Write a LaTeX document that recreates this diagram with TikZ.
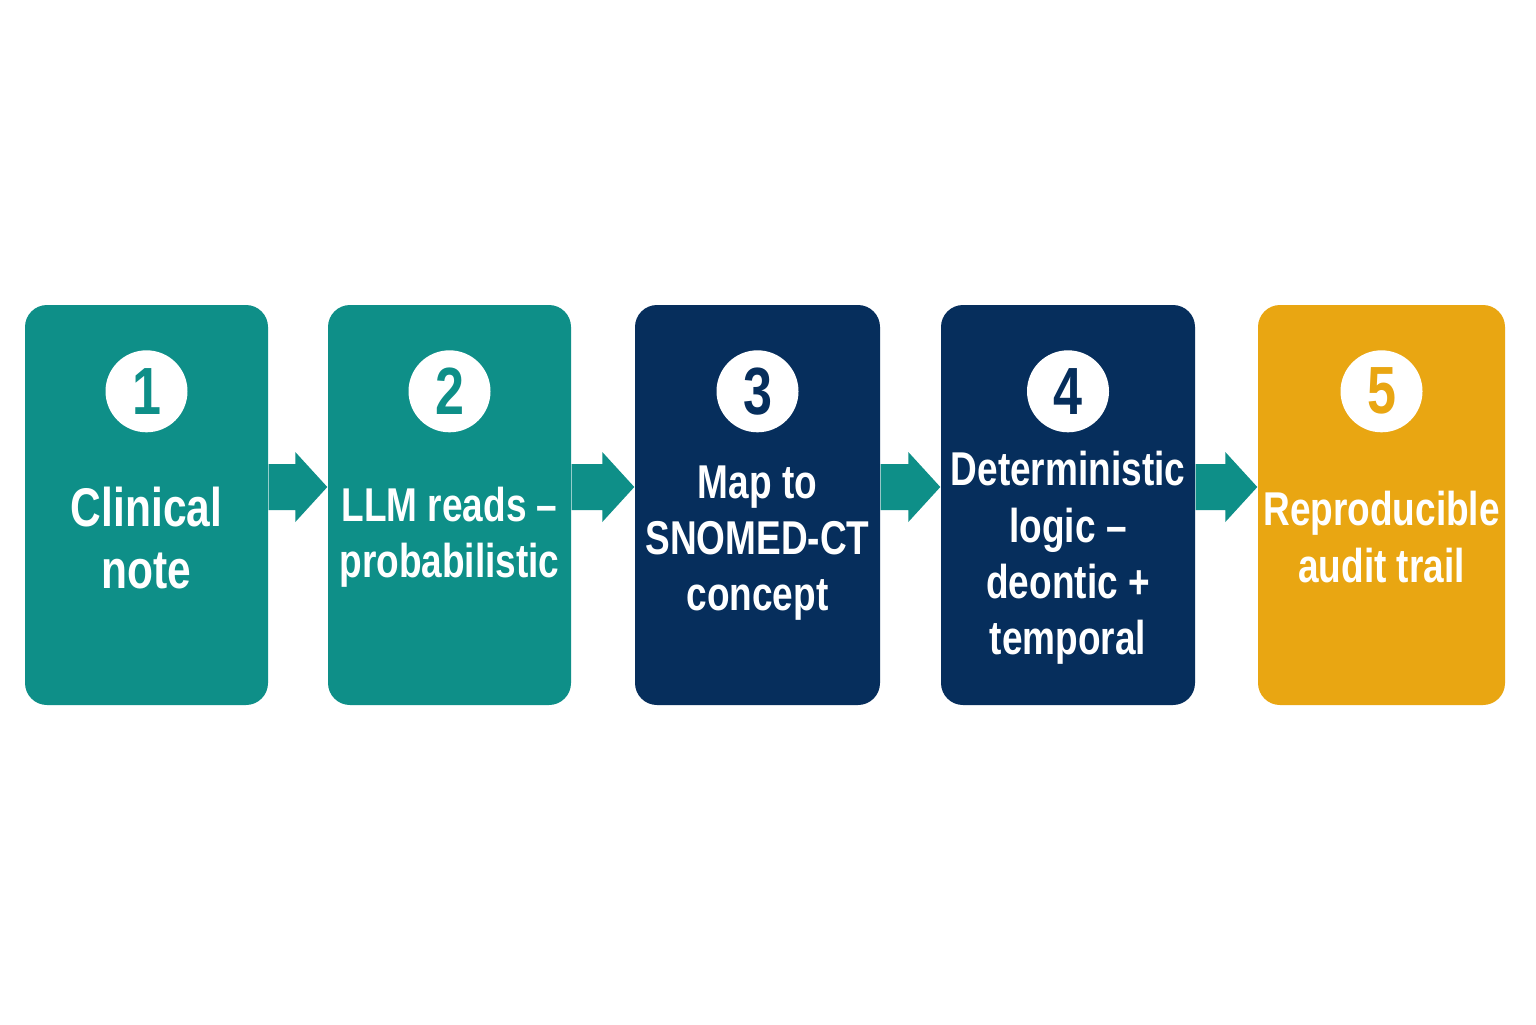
\documentclass[tikz,border=0pt]{standalone}
\usepackage{fontspec}
\setmainfont{Liberation Sans}[FakeStretch=0.78]
\usetikzlibrary{calc,positioning}
\definecolor{tealc}{HTML}{0E8F88}
\definecolor{navyc}{HTML}{062E5C}
\definecolor{gold}{HTML}{E9A612}
\tikzset{
	stepbox/.style={rounded corners=0.22cm, minimum height=4cm, inner sep=0},
	numdot/.style={circle, fill=white, minimum size=0.82cm, inner sep=0, font=\bfseries\fontsize{19}{19}\selectfont},
	label/.style={text=white, align=center, font=\bfseries\fontsize{13.5}{16}\selectfont}
}
% block arrow from one box to the next
\newcommand{\flowarrow}[2]{
	\fill[tealc] ($(#1.east)+(0,0.41)$) -- ($(#2.west)+(-0.32,0.41)$) -- ($(#2.west)+(-0.32,0.53)$)
	-- ($(#2.west)+(0,0.18)$) -- ($(#2.west)+(-0.32,-0.17)$) -- ($(#2.west)+(-0.32,-0.05)$)
	-- ($(#1.east)+(0,-0.05)$) -- cycle;
}
\begin{document}
\begin{tikzpicture}
	\fill[white] (0,0) rectangle (15.36,-10.24);
	\useasboundingbox (0,0) rectangle (15.36,-10.24);
	
	% boxes
	\node[stepbox, fill=tealc, minimum width=2.43cm] (b1) at (1.465,-5.05) {};
	\node[stepbox, fill=tealc, minimum width=2.43cm] (b2) at (4.495,-5.05) {};
	\node[stepbox, fill=navyc, minimum width=2.45cm] (b3) at (7.575,-5.05) {};
	\node[stepbox, fill=navyc, minimum width=2.54cm] (b4) at (10.68,-5.05) {};
	\node[stepbox, fill=gold, minimum width=2.47cm] (b5) at (13.815,-5.05) {};
	
	% numbers
	\node[numdot, text=tealc] (n1) at ($(b1.north)+(0,-0.87)$) {1};
	\node[numdot, text=tealc] (n2) at ($(b2.north)+(0,-0.87)$) {2};
	\node[numdot, text=navyc] (n3) at ($(b3.north)+(0,-0.87)$) {3};
	\node[numdot, text=navyc] (n4) at ($(b4.north)+(0,-0.87)$) {4};
	\node[numdot, text=gold] (n5) at ($(b5.north)+(0,-0.87)$) {5};
	
	% texts
	\node[label, font=\bfseries\fontsize{15.5}{17.5}\selectfont] (t1) at ($(b1.center)+(0,-0.33)$) {Clinical\\note};
	\node[label] (t2) at ($(b2.center)+(0,-0.32)$) {LLM reads --\\probabilistic};
	\node[label] (t3) at ($(b3.center)+(0,-0.38)$) {Map to\\SNOMED-CT\\concept};
	\node[label] (t4) at ($(b4.center)+(0,-0.53)$) {Deterministic\\logic --\\deontic +\\temporal};
	\node[label] (t5) at ($(b5.center)+(0,-0.32)$) {Reproducible\\audit trail};
	
	% arrows
	\flowarrow{b1}{b2}
	\flowarrow{b2}{b3}
	\flowarrow{b3}{b4}
	\flowarrow{b4}{b5}
\end{tikzpicture}
\end{document}
